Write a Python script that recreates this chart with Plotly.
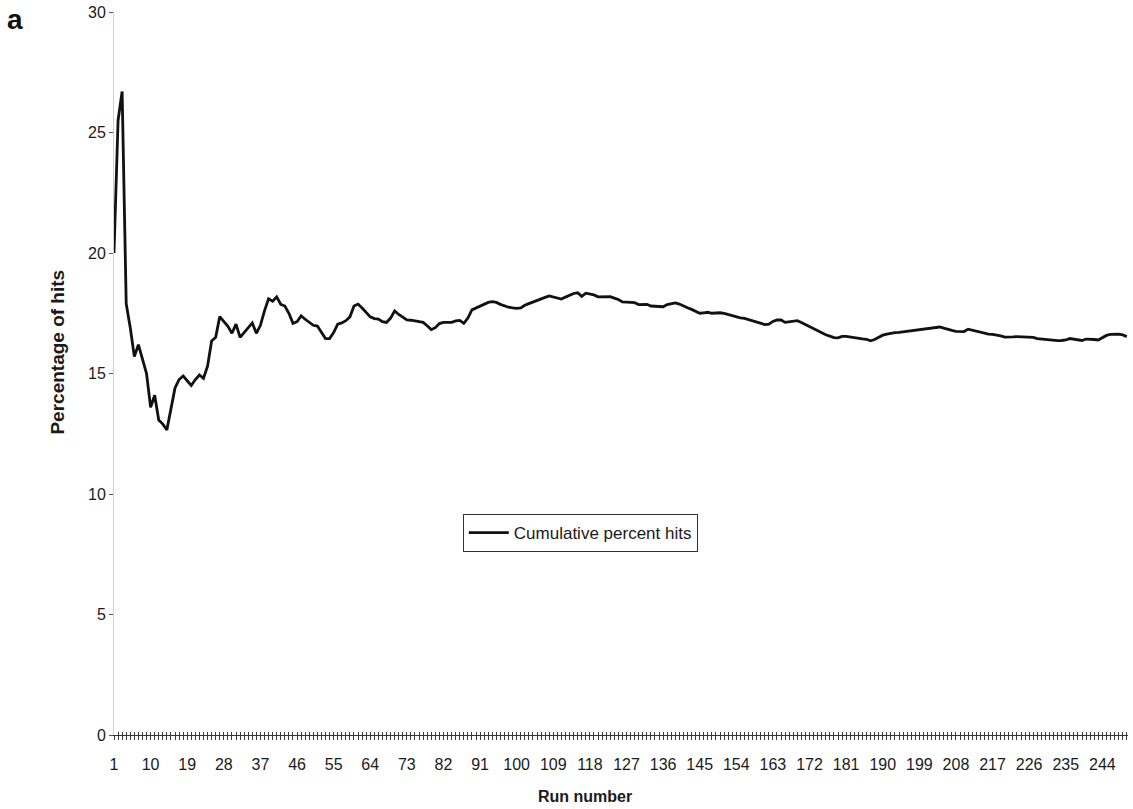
import plotly.graph_objects as go

# Run numbers and the cumulative percentage of hits after each run
runs = list(range(1, 251))
cumulative_pct = [
    20.0, 25.5, 26.7, 17.9, 16.9, 15.7, 16.2, 15.6, 15.0, 13.6,
    14.1, 13.07, 12.9, 12.66, 13.5, 14.4, 14.75, 14.9, 14.7, 14.5,
    14.75, 14.94, 14.8, 15.3, 16.35, 16.5, 17.36, 17.18, 16.96, 16.67,
    17.05, 16.5, 16.7, 16.88, 17.1, 16.67, 17.0, 17.6, 18.1, 18.0,
    18.18, 17.87, 17.8, 17.5, 17.08, 17.15, 17.39, 17.25, 17.12, 17.0,
    16.97, 16.7, 16.45, 16.45, 16.7, 17.05, 17.1, 17.19, 17.35, 17.8,
    17.88, 17.72, 17.55, 17.35, 17.28, 17.26, 17.15, 17.12, 17.3, 17.6,
    17.45, 17.32, 17.22, 17.21, 17.18, 17.14, 17.12, 16.98, 16.82, 16.9,
    17.07, 17.12, 17.13, 17.12, 17.18, 17.2, 17.08, 17.3, 17.64, 17.72,
    17.8, 17.9, 17.95, 17.98, 17.95, 17.87, 17.8, 17.75, 17.72, 17.7,
    17.72, 17.83, 17.9, 17.97, 18.05, 18.1, 18.16, 18.22, 18.17, 18.13,
    18.09, 18.17, 18.25, 18.32, 18.35, 18.2, 18.33, 18.31, 18.26, 18.18,
    18.19, 18.21, 18.19, 18.13, 18.07, 17.97, 17.95, 17.94, 17.94, 17.86,
    17.88, 17.87, 17.8, 17.79, 17.78, 17.77, 17.86, 17.9, 17.93, 17.88,
    17.79, 17.73, 17.66, 17.58, 17.5, 17.52, 17.54, 17.5, 17.51, 17.52,
    17.49, 17.44, 17.38, 17.33, 17.31, 17.29, 17.24, 17.19, 17.14, 17.09,
    17.03, 17.05, 17.16, 17.22, 17.22, 17.12, 17.14, 17.16, 17.19, 17.12,
    17.03, 16.95, 16.87, 16.78, 16.7, 16.61, 16.55, 16.49, 16.48, 16.54,
    16.54, 16.51, 16.48, 16.44, 16.44, 16.42, 16.36, 16.41, 16.5, 16.59,
    16.63, 16.67, 16.7, 16.71, 16.73, 16.76, 16.79, 16.81, 16.84, 16.86,
    16.86, 16.87, 16.91, 16.93, 16.88, 16.82, 16.79, 16.75, 16.73, 16.74,
    16.84, 16.8, 16.73, 16.69, 16.66, 16.63, 16.62, 16.6, 16.56, 16.51,
    16.5, 16.52, 16.53, 16.53, 16.53, 16.52, 16.5, 16.45, 16.43, 16.43,
    16.42, 16.39, 16.36, 16.37, 16.39, 16.45, 16.42, 16.38, 16.37, 16.43,
    16.43, 16.41, 16.39, 16.47, 16.58, 16.62, 16.63, 16.63, 16.6, 16.53,
]

# Labelled runs on the category axis (every 9th run)
x_tick_runs = list(range(1, 250, 9))
y_tick_values = [0, 5, 10, 15, 20, 25, 30]

FONT = "Liberation Sans, Arial, Helvetica, sans-serif"
INK = "#1a1a1a"
TICK = "#3a3a3a"

fig = go.Figure()

fig.add_trace(go.Scatter(
    x=runs, y=cumulative_pct, mode="lines",
    name="Cumulative percent hits",
    line=dict(color="#111111", width=2.8),
))

# Companion trace on the overlaid axis that carries the upward tick marks
fig.add_trace(go.Scatter(
    x=runs, y=cumulative_pct, mode="lines", xaxis="x2",
    line=dict(color="rgba(0,0,0,0)", width=0),
    showlegend=False, hoverinfo="skip",
))

x_range = [1, 250.3]

fig.update_layout(
    width=1133, height=809,
    margin=dict(l=114, r=5, t=12, b=74),
    paper_bgcolor="white", plot_bgcolor="white",
    font=dict(family=FONT, color=INK, size=16),
    showlegend=True,
    legend=dict(
        x=0.344, y=0.3057, xanchor="left", yanchor="top",
        bgcolor="white", bordercolor="#333333", borderwidth=1,
        font=dict(family=FONT, size=17, color=INK),
        itemwidth=40,
    ),
    xaxis=dict(
        range=x_range, showgrid=False, zeroline=False,
        showline=True, linecolor="#333333", linewidth=1,
        tickmode="array", tickvals=x_tick_runs,
        ticktext=[str(v) for v in x_tick_runs],
        ticks="outside", ticklen=4, tickwidth=1, tickcolor=TICK,
        minor=dict(tickmode="linear", tick0=1, dtick=1, ticks="outside",
                   ticklen=4, tickwidth=1, tickcolor=TICK, showgrid=False),
        ticklabelstandoff=11,
        tickfont=dict(family=FONT, size=16, color=INK),
    ),
    xaxis2=dict(
        range=x_range, overlaying="x", anchor="y", side="bottom",
        showgrid=False, zeroline=False, showline=False,
        tickmode="linear", tick0=1, dtick=1,
        ticks="inside", ticklen=3, tickwidth=1, tickcolor=TICK,
        showticklabels=False,
    ),
    yaxis=dict(
        range=[0, 30], showgrid=False, zeroline=False,
        showline=True, linecolor="#cfcfcf", linewidth=1,
        tickmode="array", tickvals=y_tick_values,
        ticks="outside", ticklen=4, tickwidth=1, tickcolor="#555555",
        tickfont=dict(family=FONT, size=16, color=INK),
    ),
    annotations=[
        dict(text="<b>a</b>", xref="paper", yref="paper",
             x=-0.0976, y=0.99, xanchor="center", yanchor="middle",
             showarrow=False, font=dict(family=FONT, size=28, color="#111111")),
        dict(text="<b>Run number</b>", xref="paper", yref="paper",
             x=0.4645, y=-0.0844, xanchor="center", yanchor="middle",
             showarrow=False, font=dict(family=FONT, size=16, color=INK)),
        dict(text="<b>Percentage of hits</b>", xref="paper", yref="paper",
             x=-0.0552, y=0.529, xanchor="center", yanchor="middle",
             textangle=-90, showarrow=False,
             font=dict(family=FONT, size=19, color=INK)),
    ],
)

fig.write_html("out.html")
